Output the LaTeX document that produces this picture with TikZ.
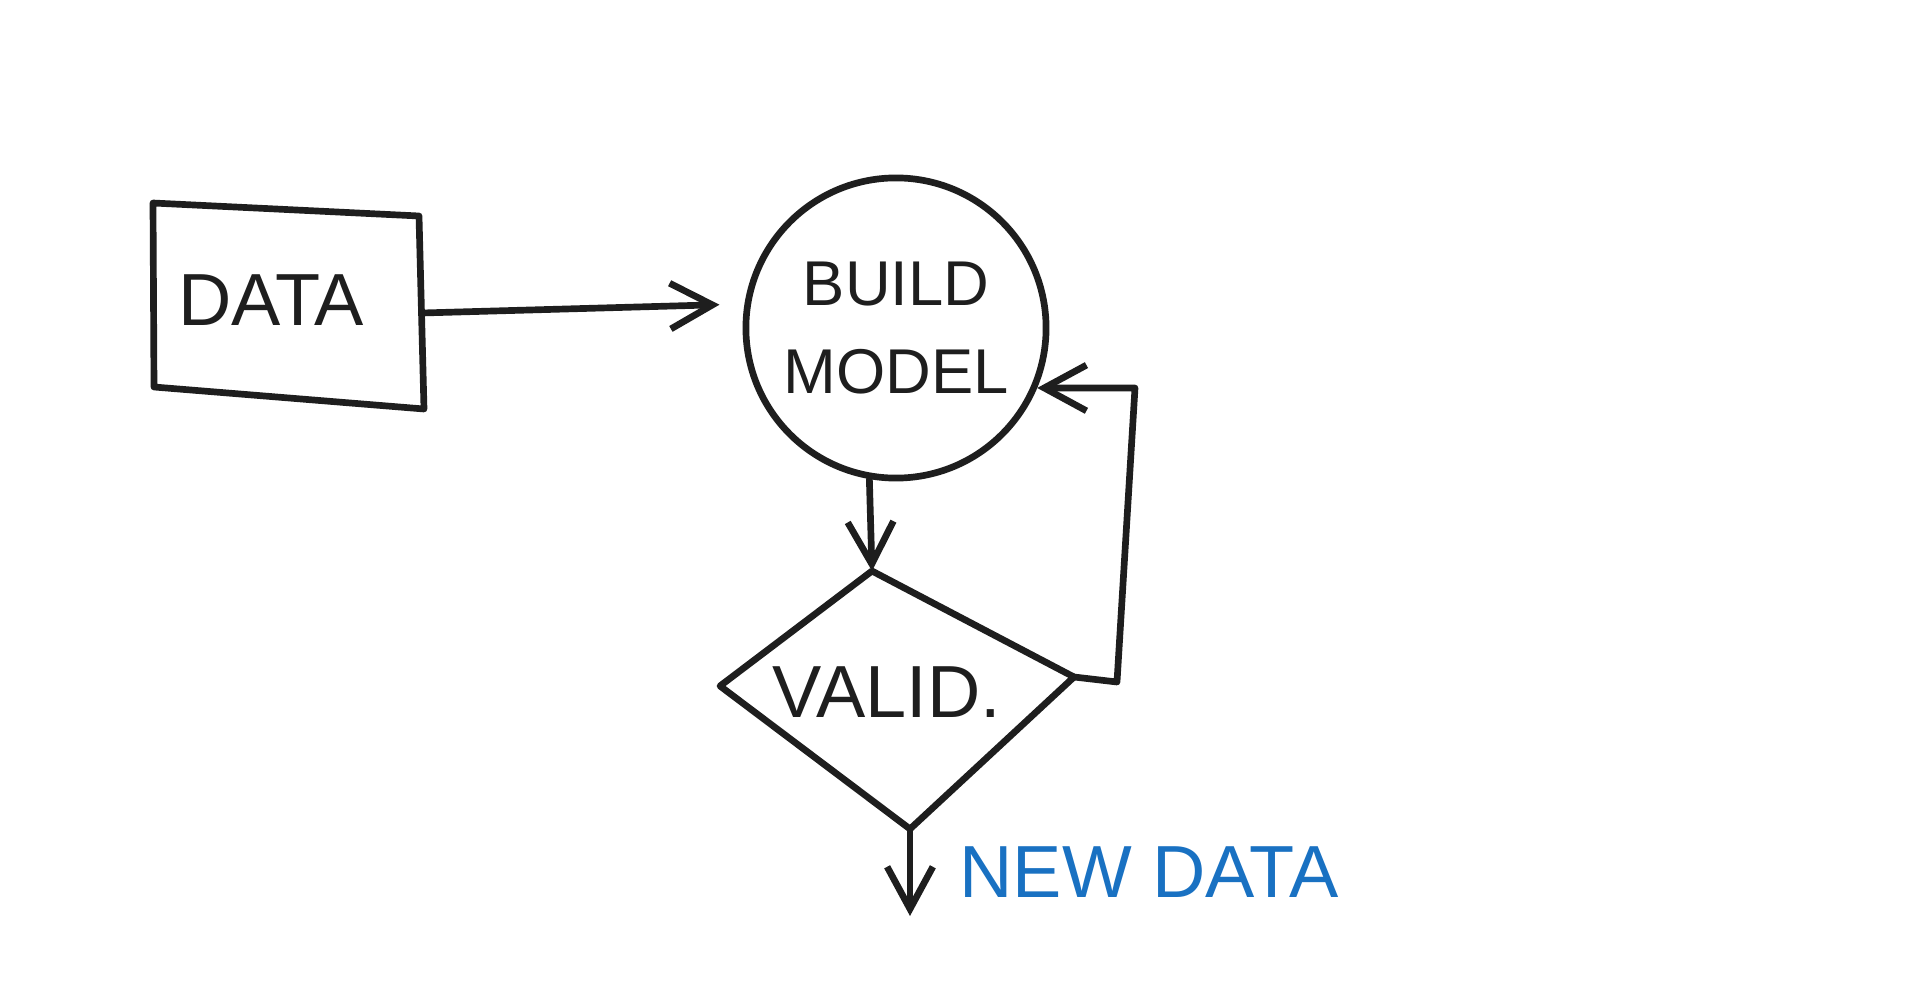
\documentclass[tikz,border=0pt]{standalone}
\usepackage{fontspec}
\setmainfont{Liberation Sans}
\usetikzlibrary{arrows.meta}
\definecolor{ink}{HTML}{1E1E1E}
\definecolor{penblue}{HTML}{1971C2}
\tikzset{
  sketch/.style={draw=ink, line width=1.9pt, line join=round, line cap=round},
  flow/.style={sketch, -{Straight Barb[length=12pt,width=13pt,line width=1.9pt]}},
  word/.style={text=ink, font=\fontsize{21}{25}\selectfont, align=center}
}
\begin{document}
\begin{tikzpicture}[x=0.01cm, y=-0.01cm]
\fill[white] (0,0) rectangle (1920,991);
\useasboundingbox (0,0) rectangle (1920,991);

\coordinate (d1) at (153,203);
\coordinate (d2) at (419,216);
\coordinate (d3) at (424,409);
\coordinate (d4) at (154,387);
\draw[sketch] (d1) -- (d2) -- (d3) -- (d4) -- cycle;
\node[word] (data) at (271,300) {DATA};
\coordinate (dataout) at (422,313);

\node[circle, sketch, minimum size=3cm, inner sep=0pt, word,
  font=\fontsize{18}{25}\selectfont] (build) at (896,328) {BUILD\\MODEL};

\coordinate (vtop) at (872,571);
\coordinate (vleft) at (720,686);
\coordinate (vright) at (1074,677);
\coordinate (vbottom) at (910,829);
\draw[sketch] (vtop) -- (vright) -- (vbottom) -- (vleft) -- cycle;
\node[word] (valid) at (887,692) {VALID.};

\coordinate (loopa) at (1117,682);
\coordinate (loopb) at (1135,388);
\coordinate (out) at (910,916);

\draw[flow, shorten >=0.25cm] (dataout) -- (build.171);
\draw[flow] (build.-100) -- (vtop);
\draw[flow] (vright) -- (loopa) -- (loopb) -- (build.-23);
\draw[flow] (vbottom) -- (out);

\node[word, text=penblue] (newdata) at (1149,872) {NEW DATA};
\end{tikzpicture}
\end{document}
